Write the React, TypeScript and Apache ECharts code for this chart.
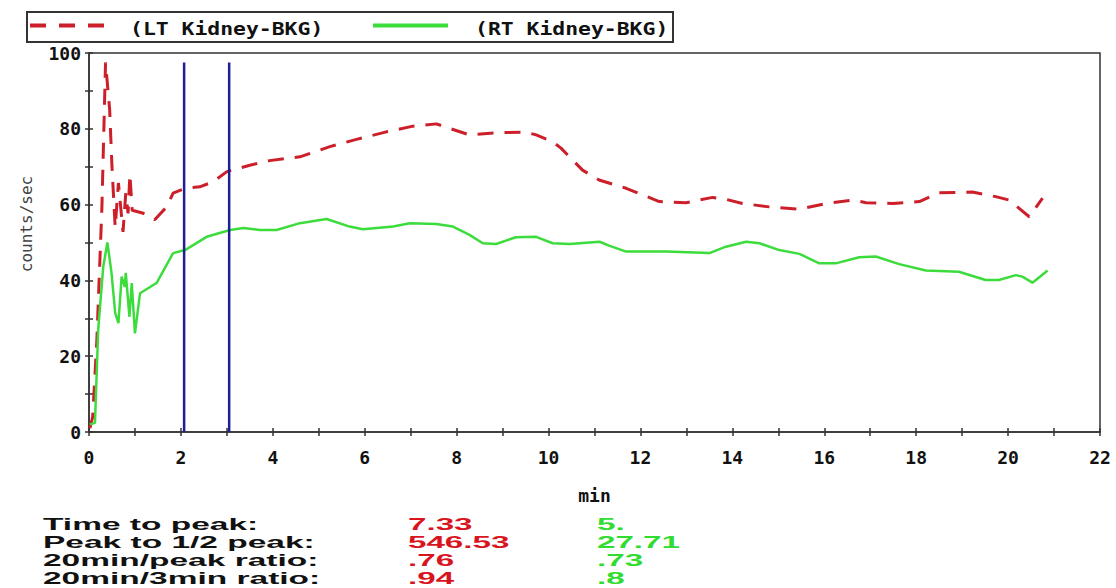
import React, { useEffect, useRef } from "react";
import * as echarts from "echarts";

const seriesNames = ["(LT Kidney-BKG)", "(RT Kidney-BKG)"];
const yAxisName = "counts/sec";
const xAxisName = "min";

const ltTime = [0.02, 0.08, 0.17, 0.28, 0.36, 0.45, 0.5, 0.57, 0.64, 0.74, 0.8, 0.85, 0.89, 0.94, 1.18, 1.43, 1.69, 1.83, 2.09, 2.41, 2.7, 3.0, 3.5, 3.93, 4.59, 5.24, 5.82, 6.47, 7.05, 7.56, 7.85, 8.28, 8.93, 9.51, 9.73, 10.09, 10.27, 10.52, 10.74, 11.1, 11.69, 12.41, 12.99, 13.57, 13.86, 14.22, 14.8, 15.46, 16.04, 16.62, 16.91, 17.49, 18.07, 18.5, 19.22, 19.73, 20.02, 20.46, 20.75];
const ltValues = [1, 4, 24, 59, 97.5, 85, 70, 54, 65.7, 52.8, 63, 57.7, 68, 58.5, 57.7, 56, 59.4, 63, 64.3, 64.7, 66, 68.7, 70.4, 71.6, 72.6, 75.3, 77.2, 79.2, 80.7, 81.3, 80.1, 78.4, 79, 79.1, 78.4, 76.6, 74.9, 71.8, 69.1, 66.5, 64.3, 60.8, 60.5, 61.9, 61.4, 60.3, 59.4, 58.8, 60.3, 61.2, 60.5, 60.3, 60.8, 63.1, 63.3, 62.1, 61.2, 56.8, 61.7];

const rtTime = [0.02, 0.13, 0.2, 0.31, 0.4, 0.49, 0.57, 0.64, 0.71, 0.78, 0.8, 0.88, 0.93, 1.0, 1.11, 1.47, 1.83, 2.09, 2.56, 3.07, 3.36, 3.72, 4.08, 4.59, 5.17, 5.67, 5.96, 6.62, 6.98, 7.56, 7.92, 8.28, 8.57, 8.86, 9.29, 9.73, 10.09, 10.46, 11.11, 11.33, 11.69, 12.56, 13.5, 13.86, 14.3, 14.59, 15.02, 15.46, 15.89, 16.25, 16.76, 17.12, 17.63, 18.21, 18.93, 19.51, 19.8, 20.17, 20.31, 20.53, 20.86];
const rtValues = [2, 2.4, 27, 43.6, 50, 42, 31.4, 28.7, 41, 38.3, 42, 30.4, 39.3, 26, 36.6, 39.3, 47.2, 48, 51.5, 53.3, 53.8, 53.3, 53.3, 55.1, 56.2, 54.2, 53.5, 54.2, 55.1, 54.9, 54.2, 52, 49.8, 49.6, 51.4, 51.5, 49.8, 49.6, 50.2, 49.1, 47.6, 47.6, 47.2, 48.9, 50.2, 49.8, 48, 47, 44.5, 44.5, 46.1, 46.3, 44.3, 42.6, 42.3, 40.1, 40.1, 41.4, 41, 39.4, 42.6];

const markerTimes = [2.07, 3.05];
const markerTop = 97.5;

const statLabels = ["Time to peak:", "Peak to 1/2 peak:", "20min/peak ratio:", "20min/3min ratio:"];
const ltStats = ["7.33", "546.53", ".76", ".94"];
const rtStats = ["5.", "27.71", ".73", ".8"];

const RED = "#cc1f2a";
const GREEN = "#3ddc3d";
const BLUE = "#1e1e96";
const MONO = '"DejaVu Sans Mono", monospace';

export default function App() {
  const ref = useRef<HTMLDivElement>(null);

  useEffect(() => {
    if (!ref.current) return;
    const chart = echarts.init(ref.current, undefined, { renderer: "svg" });

    const ltData = ltTime.map((t, i) => [t, ltValues[i]]);
    const rtData = rtTime.map((t, i) => [t, rtValues[i]]);

    const tableFont = 'bold 17px "Liberation Sans", Arial, sans-serif';
    const rowY = [524, 542, 560, 578];
    const tableTexts: any[] = [];
    statLabels.forEach((s, i) => {
      tableTexts.push({ type: "text", x: 43, y: rowY[i], scaleX: 1.97, style: { text: s, font: tableFont, fill: "#111", verticalAlign: "middle" } });
      tableTexts.push({ type: "text", x: 408, y: rowY[i], scaleX: 1.95, style: { text: ltStats[i], font: tableFont, fill: "#d8141e", verticalAlign: "middle" } });
      tableTexts.push({ type: "text", x: 597, y: rowY[i], scaleX: 1.95, style: { text: rtStats[i], font: tableFont, fill: "#2fdc2f", verticalAlign: "middle" } });
    });

    const legendFont = `bold 18px ${MONO}`;

    const tickAxisCommon = {
      type: "value" as const,
      axisLine: { show: true, lineStyle: { color: "#333", width: 1.5 } },
      splitLine: { show: false },
    };

    chart.setOption({
      animation: false,
      backgroundColor: "#ffffff",
      grid: { left: 89, right: 16, top: 53, bottom: 156, show: true, borderColor: "#333", borderWidth: 1.5, backgroundColor: "transparent" },
      xAxis: [
        {
          ...tickAxisCommon,
          min: 0,
          max: 22,
          interval: 2,
          name: xAxisName,
          nameLocation: "middle",
          nameGap: 54,
          nameTextStyle: { fontFamily: MONO, fontWeight: "bold", fontSize: 18, color: "#111" },
          axisTick: { show: true, length: 4, lineStyle: { color: "#333", width: 1.5 } },
          minorTick: { show: true, splitNumber: 2, length: 4, lineStyle: { color: "#333", width: 1.5 } },
          axisLabel: { fontFamily: MONO, fontWeight: "bold", fontSize: 18, color: "#111", margin: 16 },
        },
        {
          ...tickAxisCommon,
          position: "bottom",
          min: 0,
          max: 22,
          interval: 2,
          axisLine: { show: false },
          axisTick: { show: true, inside: true, length: 4, lineStyle: { color: "#333", width: 1.5 } },
          minorTick: { show: true, splitNumber: 2, length: 4, lineStyle: { color: "#333", width: 1.5 } },
          axisLabel: { show: false },
        },
      ],
      yAxis: [
        {
          ...tickAxisCommon,
          min: 0,
          max: 100,
          interval: 20,
          axisTick: { show: true, length: 4, lineStyle: { color: "#333", width: 1.5 } },
          minorTick: { show: true, splitNumber: 2, length: 4, lineStyle: { color: "#333", width: 1.5 } },
          axisLabel: { fontFamily: MONO, fontWeight: "bold", fontSize: 18, color: "#111", margin: 8 },
        },
        {
          ...tickAxisCommon,
          position: "left",
          min: 0,
          max: 100,
          interval: 20,
          axisLine: { show: false },
          axisTick: { show: true, inside: true, length: 4, lineStyle: { color: "#333", width: 1.5 } },
          minorTick: { show: true, splitNumber: 2, length: 4, lineStyle: { color: "#333", width: 1.5 } },
          axisLabel: { show: false },
        },
      ],
      series: [
        {
          name: seriesNames[0],
          type: "line",
          data: ltData,
          showSymbol: false,
          symbol: "none",
          lineStyle: { color: RED, width: 3, type: [16, 11] },
          itemStyle: { color: RED },
          z: 3,
        },
        {
          name: seriesNames[1],
          type: "line",
          data: rtData,
          showSymbol: false,
          symbol: "none",
          lineStyle: { color: GREEN, width: 2.5 },
          itemStyle: { color: GREEN },
          z: 3,
        },
        ...markerTimes.map((t) => ({
          type: "line",
          data: [[t, 0], [t, markerTop]],
          symbol: "none",
          silent: true,
          lineStyle: { color: BLUE, width: 2.5 },
          z: 4,
        })),
      ],
      graphic: [
        { type: "rect", shape: { x: 27, y: 12, width: 646, height: 30 }, style: { fill: "#fff", stroke: "#333", lineWidth: 2 } },
        { type: "line", shape: { x1: 30, y1: 25.5, x2: 104, y2: 25.5 }, style: { stroke: RED, lineWidth: 4, lineDash: [16, 13] } },
        { type: "text", x: 130, y: 29.5, scaleX: 1.19, style: { text: seriesNames[0], font: legendFont, fill: "#111", verticalAlign: "middle" } },
        { type: "line", shape: { x1: 373, y1: 25.5, x2: 448, y2: 25.5 }, style: { stroke: GREEN, lineWidth: 4 } },
        { type: "text", x: 475, y: 29.5, scaleX: 1.19, style: { text: seriesNames[1], font: legendFont, fill: "#111", verticalAlign: "middle" } },
        { type: "text", x: 26, y: 224, rotation: Math.PI / 2, style: { text: yAxisName, font: `16px ${MONO}`, fill: "#444", align: "center", verticalAlign: "middle" } },
        ...tableTexts,
      ],
    });

    return () => chart.dispose();
  }, []);

  return <div ref={ref} style={{ position: "absolute", left: 0, top: 0, width: 1116, height: 588 }} />;
}
